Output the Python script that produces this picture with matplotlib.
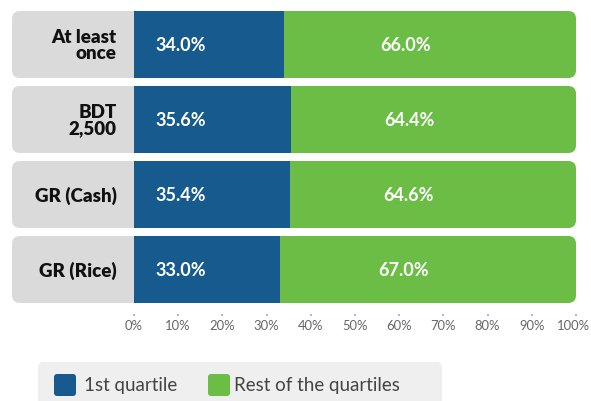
import matplotlib
matplotlib.use("Agg")
import matplotlib.pyplot as plt
from matplotlib.patches import FancyBboxPatch
from matplotlib.transforms import ScaledTranslation

categories = ["At least\nonce", "BDT\n2,500", "GR (Cash)", "GR (Rice)"]
first_quartile = [34.0, 35.6, 35.4, 33.0]
rest_quartiles = [66.0, 64.4, 64.6, 67.0]
xticks = [0, 10, 20, 30, 40, 50, 60, 70, 80, 90, 100]
legend_labels = ["1st quartile", "Rest of the quartiles"]

BLUE = "#175B8E"
GREEN = "#6CBD45"
GRAY = "#DADADA"
FONT = "Lato"

W, H = 591, 402
fig = plt.figure(figsize=(W / 100, H / 100), dpi=100)
fig.patch.set_facecolor("white")

x0_px, x1_px = 134, 576
ytop_px, ybot_px = 8, 308
ax = fig.add_axes([x0_px / W, (H - ybot_px) / H, (x1_px - x0_px) / W, (ybot_px - ytop_px) / H])
ax.set_xlim(0, 100)
ax.set_ylim(3.5, -0.5)
ax.set_facecolor("none")

px_per_x = (x1_px - x0_px) / 100.0
px_per_y = (ybot_px - ytop_px) / 4.0
bar_h = 67 / 75.0
left_ext = -(x0_px - 12) / px_per_x
r_px = 8
r = r_px / px_per_x
aspect = px_per_x / px_per_y

for i, (cat, v1, v2) in enumerate(zip(categories, first_quartile, rest_quartiles)):
    box = FancyBboxPatch((left_ext, i - bar_h / 2), 100 - left_ext, bar_h,
                         boxstyle=f"round,pad=0,rounding_size={r}",
                         mutation_aspect=aspect, facecolor=GRAY, edgecolor="none",
                         clip_on=False, zorder=1)
    ax.add_patch(box)
    b1 = ax.barh(i, v1, left=0, height=bar_h, color=BLUE, zorder=2)
    b2 = ax.barh(i, v2, left=v1, height=bar_h, color=GREEN, zorder=2)
    for b in list(b1) + list(b2):
        b.set_clip_path(box)
    ax.text(-3.9, i, cat, ha="right", va="center", fontsize=13.5, fontweight="heavy",
            family=FONT, color="#111111", linespacing=0.88, clip_on=False)
    ax.text(4.8, i, f"{v1:.1f}%", ha="left", va="center", fontsize=13,
            fontweight="bold", family=FONT, color="white", zorder=3)
    ax.text((v1 + 100) / 2 - 5.5, i, f"{v2:.1f}%", ha="center", va="center",
            fontsize=13, fontweight="bold", family=FONT, color="white", zorder=3)

for s in ax.spines.values():
    s.set_visible(False)
ax.spines["bottom"].set_position(("outward", 5))
ax.set_yticks([])
ax.set_xticks(xticks)
ax.set_xticklabels([f"{t}%" for t in xticks], family=FONT, fontsize=9.4,
                   color="#666666")
ax.tick_params(axis="x", length=1.5, width=1.2, color="#AAAAAA", pad=2)
last = ax.get_xticklabels()[-1]
last.set_transform(last.get_transform() + ScaledTranslation(-3 / 100, 0, fig.dpi_scale_trans))

# legend box
lax = fig.add_axes([0, 0, 1, 1])
lax.set_xlim(0, W)
lax.set_ylim(H, 0)
lax.axis("off")
lax.add_patch(FancyBboxPatch((38, 363), 404, 50, boxstyle="round,pad=0,rounding_size=5",
                             facecolor="#EFEFEF", edgecolor="none"))
lax.add_patch(FancyBboxPatch((54, 375), 22, 22, boxstyle="round,pad=0,rounding_size=3",
                             facecolor=BLUE, edgecolor="none"))
lax.text(84, 386, legend_labels[0], ha="left", va="center", fontsize=13.5,
         family=FONT, color="#444444")
lax.add_patch(FancyBboxPatch((208, 375), 22, 22, boxstyle="round,pad=0,rounding_size=3",
                             facecolor=GREEN, edgecolor="none"))
lax.text(234, 386, legend_labels[1], ha="left", va="center", fontsize=13.5,
         family=FONT, color="#444444")

fig.savefig("out.png", dpi=100)
